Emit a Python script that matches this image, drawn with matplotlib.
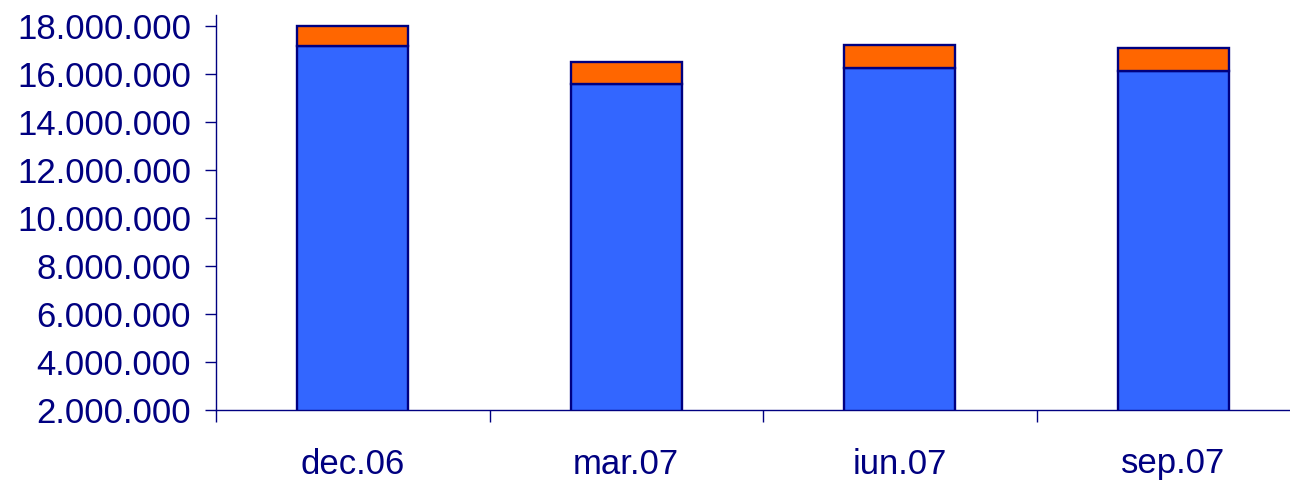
import numpy as np
import matplotlib
matplotlib.use("Agg")
import matplotlib.pyplot as plt
from matplotlib.ticker import FuncFormatter, FixedLocator

# values
periods = ["dec.06", "mar.07", "iun.07", "sep.07"]
base_vals = [17180000, 15580000, 16250000, 16140000]
top_vals = [820000, 920000, 960000, 930000]

navy = "#000080"
blue = "#3366FF"
orange = "#FF6600"

plt.rcParams['font.family'] = ['Liberation Sans', 'DejaVu Sans']

fig = plt.figure(figsize=(12.9, 4.8), dpi=100)
ax = fig.add_axes([216/1290, 1-410/480, (1310-216)/1290, (410-15)/480])

x = np.arange(len(periods))
ax.bar(x, base_vals, width=0.405, color=blue, edgecolor=navy, linewidth=1.7)
ax.bar(x, top_vals, bottom=base_vals, width=0.405, color=orange, edgecolor=navy, linewidth=1.7)

ax.set_xlim(-0.5, 3.5)
ax.set_ylim(2000000, 18460000)

ax.set_yticks(np.arange(2000000, 18000001, 2000000))
ax.yaxis.set_major_formatter(FuncFormatter(lambda v, p: f"{int(v):,}".replace(",", ".")))
ax.tick_params(axis='y', direction='out', length=8, width=1, color=navy,
               labelcolor=navy, labelsize=25, pad=10)

# category separators as major ticks, labels on minor ticks
ax.xaxis.set_major_locator(FixedLocator(np.arange(-0.5, 4.0, 1.0)))
ax.xaxis.set_major_formatter(FuncFormatter(lambda v, p: ""))
ax.xaxis.set_minor_locator(FixedLocator(x))
ax.set_xticklabels(periods, minor=True)
ax.tick_params(axis='x', which='major', direction='out', length=8.5, width=1, color=navy)
ax.tick_params(axis='x', which='minor', length=0, labelcolor=navy, labelsize=25, pad=27)

for s in ['top', 'right']:
    ax.spines[s].set_visible(False)
for s in ['left', 'bottom']:
    ax.spines[s].set_color(navy)
    ax.spines[s].set_linewidth(1)

fig.savefig("out.png", dpi=100)
